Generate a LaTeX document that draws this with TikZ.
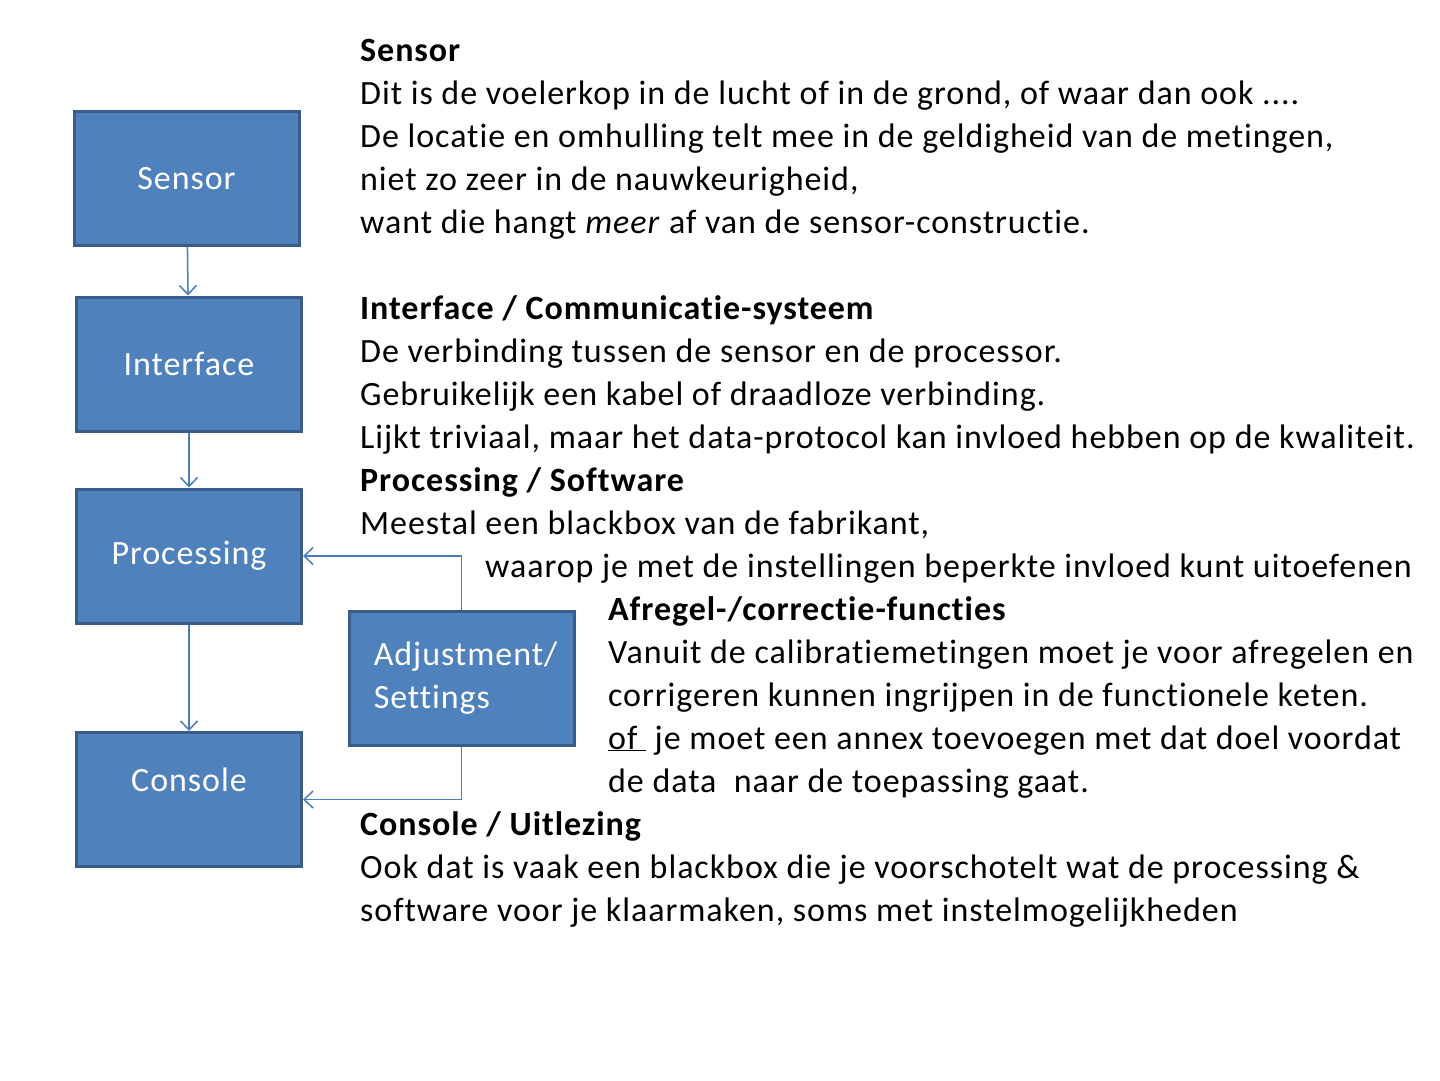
\documentclass[tikz,border=0pt]{standalone}
\usepackage{fontspec}
\setmainfont[Ligatures={NoCommon}, LetterSpace=2.8]{Carlito}
\usetikzlibrary{arrows.meta,positioning}
\definecolor{boxfill}{HTML}{4F81BD}
\definecolor{boxline}{HTML}{385D8A}
\definecolor{arrowline}{HTML}{4A7EBB}

\begin{document}
\begin{tikzpicture}[x=1pt, y=-1pt, font=\fontsize{34}{43}\selectfont, >={Straight Barb[length=9pt,width=17pt]}]
\tikzstyle{block}=[draw=boxline, fill=boxfill, line width=3pt, text=white, minimum width=225pt, minimum height=134pt, inner sep=0pt, align=center]
\tikzstyle{txt}=[anchor=base west, inner sep=0pt]
\tikzstyle{head}=[txt, font=\fontsize{34}{43}\selectfont\bfseries]
\tikzstyle{link}=[->, draw=arrowline, line width=1.5pt]
\fill[white] (0,0) rectangle (1440,1080);
\useasboundingbox (0,0) rectangle (1440,1080);

% blocks
\node[block]    (S) at (186.5,178.5) {Sensor};
\node[block]    (I) at (189,364)     {Interface};
\node[block]    (P) at (189,556)     {Processing};
\node[block]    (C) at (189,799.5)   {Console\\[-16pt]\strut};
\node[block, align=left] (A) at (461.5,678.5) {\hspace*{8pt}Adjustment/\\\hspace*{8pt}Settings};

% connectors
\draw[link] (S) -- (I);
\draw[link] (I) -- (P);
\draw[link] (P) -- (C);
\draw[link] (A.north) |- (P.east);
\draw[link] (A.south) |- (C.east);

% sensor
\node[head] (s0) at (360,61)  {Sensor};
\node[txt]  (s1) at (360,104) {Dit is de voelerkop in de lucht of in de grond, of waar dan ook ....};
\node[txt]  (s2) at (360,147) {De locatie en omhulling telt mee in de geldigheid van de metingen,};
\node[txt]  (s3) at (360,190) {niet zo zeer in de nauwkeurigheid,};
\node[txt]  (s4) at (360,233) {want die hangt \emph{meer} af van de sensor-constructie.};

% interface
\node[head] (i0) at (360,319) {Interface / Communicatie-systeem};
\node[txt]  (i1) at (360,362) {De verbinding tussen de sensor en de processor.};
\node[txt]  (i2) at (360,405) {Gebruikelijk een kabel of draadloze verbinding.};
\node[txt]  (i3) at (360,448) {Lijkt triviaal, maar het data-protocol kan invloed hebben op de kwaliteit.};

% processing
\node[head] (p0) at (360,491) {Processing / Software};
\node[txt]  (p1) at (360,534) {Meestal een blackbox van de fabrikant,};
\node[txt]  (p2) at (485,577) {waarop je met de instellingen beperkte invloed kunt uitoefenen};

% adjustment
\node[head] (a0) at (608,620) {Afregel-/correctie-functies};
\node[txt]  (a1) at (608,663) {Vanuit de calibratiemetingen moet je voor afregelen en};
\node[txt]  (a2) at (608,706) {corrigeren kunnen ingrijpen in de functionele keten.};
\node[txt]  (a3) at (608,749) {\underline{of~} je moet een annex toevoegen met dat doel voordat};
\node[txt]  (a4) at (608,792) {de data~ naar de toepassing gaat.};

% console
\node[head] (c0) at (360,835) {Console / Uitlezing};
\node[txt]  (c1) at (360,878) {Ook dat is vaak een blackbox die je voorschotelt wat de processing \&};
\node[txt]  (c2) at (360,921) {software voor je klaarmaken, soms met instelmogelijkheden};
\end{tikzpicture}
\end{document}
